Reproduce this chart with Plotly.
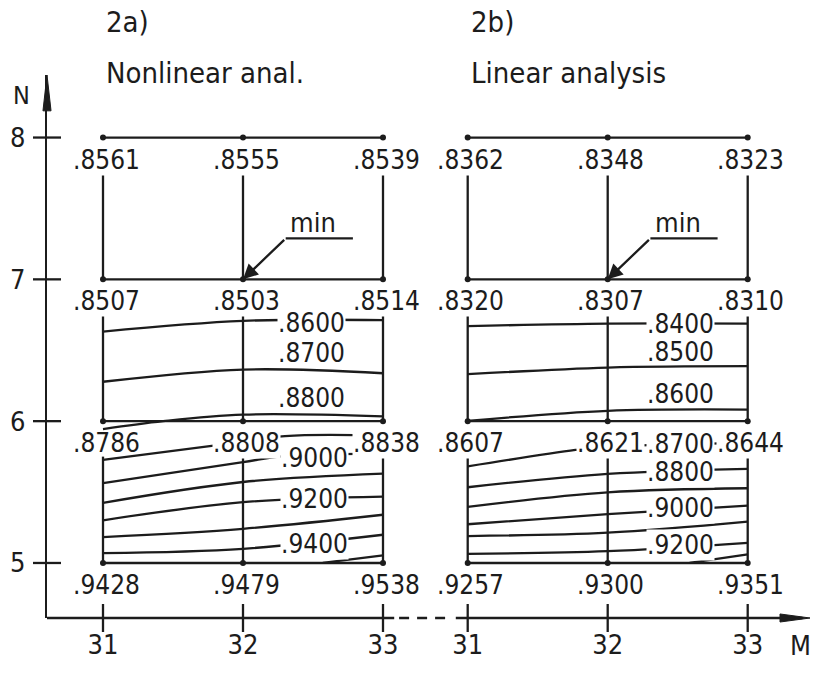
import plotly.graph_objects as go

# ---------------- data ----------------
M_VALUES = [31, 32, 33]
N_VALUES = [5, 6, 7, 8]
M_TICK_TEXT = ["31", "32", "33"]
N_TICK_TEXT = ["5", "6", "7", "8"]

# grid-point values, rows N = 5, 6, 7, 8 ; columns M = 31, 32, 33
NONLINEAR_GRID = [
    [0.9428, 0.9479, 0.9538],
    [0.8786, 0.8808, 0.8838],
    [0.8507, 0.8503, 0.8514],
    [0.8561, 0.8555, 0.8539],
]
LINEAR_GRID = [
    [0.9257, 0.9300, 0.9351],
    [0.8607, 0.8621, 0.8644],
    [0.8320, 0.8307, 0.8310],
    [0.8362, 0.8348, 0.8323],
]

# iso-lines (level, M points, N points)
NONLINEAR_LEVELS = [0.86, 0.87, 0.88, 0.89, 0.90, 0.91, 0.92, 0.93, 0.94, 0.95]
NONLINEAR_LINE_M = [
    [31, 32, 33],
    [31, 32, 33],
    [31, 31.43, 32, 33],
    [31, 31.79, 32.3, 33],
    [31, 32, 32.28, 33],
    [31, 32, 33],
    [31, 32, 33],
    [31, 32, 33],
    [31, 32, 33],
    [32.57, 33],
]
NONLINEAR_LINE_N = [
    [6.632, 6.707, 6.712],
    [6.278, 6.364, 6.338],
    [5.944, 6.000, 6.046, 6.034],
    [5.727, 5.827, 5.895, 5.898],
    [5.563, 5.711, 5.752, 5.771],
    [5.424, 5.571, 5.630],
    [5.301, 5.429, 5.468],
    [5.183, 5.241, 5.340],
    [5.069, 5.100, 5.199],
    [5.000, 5.053],
]
NONLINEAR_LABELLED = [0.86, 0.87, 0.88, 0.90, 0.92, 0.94]

LINEAR_LEVELS = [0.84, 0.85, 0.86, 0.87, 0.88, 0.89, 0.90, 0.91, 0.92, 0.93]
LINEAR_LINE_M = [
    [31, 32, 33],
    [31, 32, 33],
    [31, 32, 33],
    [31, 31.77, 32, 33],
    [31, 32, 33],
    [31, 32, 33],
    [31, 32, 33],
    [31, 32, 33],
    [31, 32, 33],
    [32.585, 33],
]
LINEAR_LINE_N = [
    [6.670, 6.688, 6.688],
    [6.331, 6.378, 6.388],
    [6.002, 6.073, 6.082],
    [5.681, 5.797, 5.820, 5.847],
    [5.534, 5.628, 5.664],
    [5.396, 5.498, 5.527],
    [5.273, 5.344, 5.404],
    [5.190, 5.214, 5.292],
    [5.064, 5.083, 5.142],
    [5.000, 5.060],
]
LINEAR_LABELLED = [0.84, 0.85, 0.86, 0.87, 0.88, 0.90, 0.92]

TITLES = [("2a)", "Nonlinear anal."), ("2b)", "Linear analysis")]

# ---------------- layout / style ----------------
FONT = "DejaVu Sans Condensed, Liberation Sans Narrow, Liberation Sans, sans-serif"
INK = "#1c1c1c"
LW = 2.3
FS = 26
PANEL_OFFSET = [0.0, 2.605]          # horizontal shift of each panel on the shared axis
X_RANGE = [30.6, 36.05]
Y_RANGE = [4.612, 8.441]
LABEL_GAP = 0.25                      # vertical grid lines stop below the value labels

# label placement for iso-line labels: level -> (M, N, sits on the line)
LABEL_POS = [
    {0.86: (32.49, 6.693, True), 0.87: (32.49, 6.482, False), 0.88: (32.49, 6.165, False),
     0.90: (32.51, 5.739, True), 0.92: (32.51, 5.454, True), 0.94: (32.51, 5.137, True)},
    {0.84: (32.52, 6.686, True), 0.85: (32.52, 6.489, False), 0.86: (32.52, 6.193, False),
     0.87: (32.52, 5.840, True), 0.88: (32.52, 5.641, True), 0.90: (32.52, 5.391, True),
     0.92: (32.52, 5.130, True)},
]
NO_BG_VALUE_LABEL = {(0, 31, 6)}

panels = [
    (NONLINEAR_GRID, NONLINEAR_LEVELS, NONLINEAR_LINE_M, NONLINEAR_LINE_N, NONLINEAR_LABELLED),
    (LINEAR_GRID, LINEAR_LEVELS, LINEAR_LINE_M, LINEAR_LINE_N, LINEAR_LABELLED),
]


def fmt(v):
    return "." + f"{int(round(v * 10000)):04d}"


def px(x):
    """data x -> paper x"""
    return (x - X_RANGE[0]) / (X_RANGE[1] - X_RANGE[0])


fig = go.Figure()
annotations = []
shapes = []

for p, (grid, levels, lm, ln, labelled) in enumerate(panels):
    off = PANEL_OFFSET[p]
    # horizontal grid lines
    hx, hy = [], []
    for n in N_VALUES:
        hx += [M_VALUES[0] + off, M_VALUES[-1] + off, None]
        hy += [n, n, None]
    # vertical grid lines, segment per band
    for m in M_VALUES:
        for k in range(len(N_VALUES) - 1):
            hx += [m + off, m + off, None]
            hy += [N_VALUES[k], N_VALUES[k + 1] - LABEL_GAP, None]
    fig.add_trace(go.Scatter(x=hx, y=hy, mode="lines", line=dict(color=INK, width=LW),
                             hoverinfo="skip", showlegend=False))
    # iso-lines
    for lev, xs, ys in zip(levels, lm, ln):
        fig.add_trace(go.Scatter(x=[x + off for x in xs], y=ys, mode="lines",
                                 line=dict(color=INK, width=LW, shape="spline", smoothing=1.0),
                                 name=fmt(lev), hoverinfo="name", showlegend=False))
    # grid points
    gx, gy = [], []
    for i, n in enumerate(N_VALUES):
        for j, m in enumerate(M_VALUES):
            gx.append(m + off)
            gy.append(n)
            annotations.append(dict(
                x=m + off, y=n, text=fmt(grid[i][j]), showarrow=False,
                xanchor="center", yanchor="middle", xshift=3, yshift=-22,
                font=dict(family=FONT, size=FS, color=INK),
                bgcolor=None if (p, m, n) in NO_BG_VALUE_LABEL else "white", borderpad=0))
    fig.add_trace(go.Scatter(x=gx, y=gy, mode="markers",
                             marker=dict(size=6, color=INK), hoverinfo="skip", showlegend=False))
    # iso-line labels
    for lev in labelled:
        lx, ly, on_line = LABEL_POS[p][lev]
        annotations.append(dict(
            x=lx + off, y=ly, text=fmt(lev), showarrow=False, xanchor="center", yanchor="middle",
            font=dict(family=FONT, size=FS, color=INK),
            bgcolor="white" if on_line else None, borderpad=0))
    # minimum marker
    flat = [(grid[i][j], M_VALUES[j], N_VALUES[i]) for i in range(len(N_VALUES)) for j in range(len(M_VALUES))]
    _, mm, mn = min(flat)
    ex, ey = mm + off + 0.305, mn + 0.289
    annotations.append(dict(x=mm + off, y=mn, ax=ex, ay=ey, axref="x", ayref="y", text="",
                            showarrow=True, arrowhead=2, arrowsize=1.3, arrowwidth=LW,
                            arrowcolor=INK, standoff=0))
    shapes.append(dict(type="line", x0=ex, x1=mm + off + 0.785, y0=ey, y1=ey,
                       line=dict(color=INK, width=LW)))
    annotations.append(dict(x=mm + off + 0.5, y=mn + 0.40, text="min", showarrow=False,
                            xanchor="center", yanchor="middle",
                            font=dict(family=FONT, size=27, color=INK)))
    # titles
    annotations.append(dict(x=M_VALUES[0] + off, xref="x", y=1.097, yref="paper", text=TITLES[p][0],
                            showarrow=False, xanchor="left", yanchor="middle", xshift=1,
                            font=dict(family=FONT, size=29, color=INK)))
    annotations.append(dict(x=M_VALUES[0] + off, xref="x", y=1.004, yref="paper", text=TITLES[p][1],
                            showarrow=False, xanchor="left", yanchor="middle", xshift=1,
                            font=dict(family=FONT, size=29, color=INK)))

# tick positions
x_tickvals = [m + off for off in PANEL_OFFSET for m in M_VALUES]
x_ticktext = M_TICK_TEXT * len(PANEL_OFFSET)

# crossing tick marks
fig.add_trace(go.Scatter(x=[X_RANGE[0]] * len(N_VALUES), y=N_VALUES, mode="markers",
                         marker=dict(symbol="line-ew", size=20, line=dict(color=INK, width=LW)),
                         cliponaxis=False, hoverinfo="skip", showlegend=False))
fig.add_trace(go.Scatter(x=x_tickvals, y=[Y_RANGE[0]] * len(x_tickvals), mode="markers",
                         marker=dict(symbol="line-ns", size=20, line=dict(color=INK, width=LW)),
                         cliponaxis=False, hoverinfo="skip", showlegend=False))

# M axis line with a dashed break between the panels (paper coordinates)
brk0 = M_VALUES[-1] + 0.08
brk1 = M_VALUES[0] + PANEL_OFFSET[1] - 0.085
shapes += [
    dict(type="line", xref="paper", yref="paper", x0=0, x1=px(brk0), y0=0, y1=0,
         line=dict(color=INK, width=LW)),
    dict(type="line", xref="paper", yref="paper", x0=px(brk0 + 0.035), x1=px(brk1 - 0.07), y0=0, y1=0,
         line=dict(color=INK, width=LW, dash="10px,8px")),
    dict(type="line", xref="paper", yref="paper", x0=px(brk1), x1=0.99, y0=0, y1=0,
         line=dict(color=INK, width=LW)),
    # arrow heads
    dict(type="path", xref="paper", yref="paper",
         path="M1,0 L0.9607,0.0074 L0.9607,-0.0074 Z", fillcolor=INK, line=dict(color=INK, width=1)),
    dict(type="path", xref="paper", yref="paper",
         path="M0,1 L-0.0053,0.934 L0.0053,0.934 Z", fillcolor=INK, line=dict(color=INK, width=1)),
]

annotations.append(dict(x=-0.033, y=0.963, xref="paper", yref="paper", text="N", showarrow=False,
                        xanchor="center", yanchor="middle", font=dict(family=FONT, size=25, color=INK)))
annotations.append(dict(x=0.988, y=-0.05, xref="paper", yref="paper", text="M", showarrow=False,
                        xanchor="center", yanchor="middle", font=dict(family=FONT, size=27, color=INK)))

fig.update_layout(
    width=813, height=690,
    margin=dict(l=47, r=3, t=75, b=72),
    paper_bgcolor="white", plot_bgcolor="white",
    showlegend=False,
    annotations=annotations,
    shapes=shapes,
    xaxis=dict(range=X_RANGE, showgrid=False, zeroline=False, showline=False,
               tickvals=x_tickvals, ticktext=x_ticktext, ticks="outside", ticklen=3,
               tickcolor="rgba(0,0,0,0)", tickfont=dict(family=FONT, size=27, color=INK)),
    yaxis=dict(range=Y_RANGE, showgrid=False, zeroline=False, showline=True, linewidth=LW,
               linecolor=INK, tickvals=N_VALUES, ticktext=N_TICK_TEXT, ticks="outside", ticklen=10,
               tickcolor="rgba(0,0,0,0)", ticklabelstandoff=4,
               tickfont=dict(family=FONT, size=27, color=INK)),
)

fig.write_html("out.html", config={"displayModeBar": False},
               post_script="document.body.style.margin='0';document.body.style.overflow='hidden';")
